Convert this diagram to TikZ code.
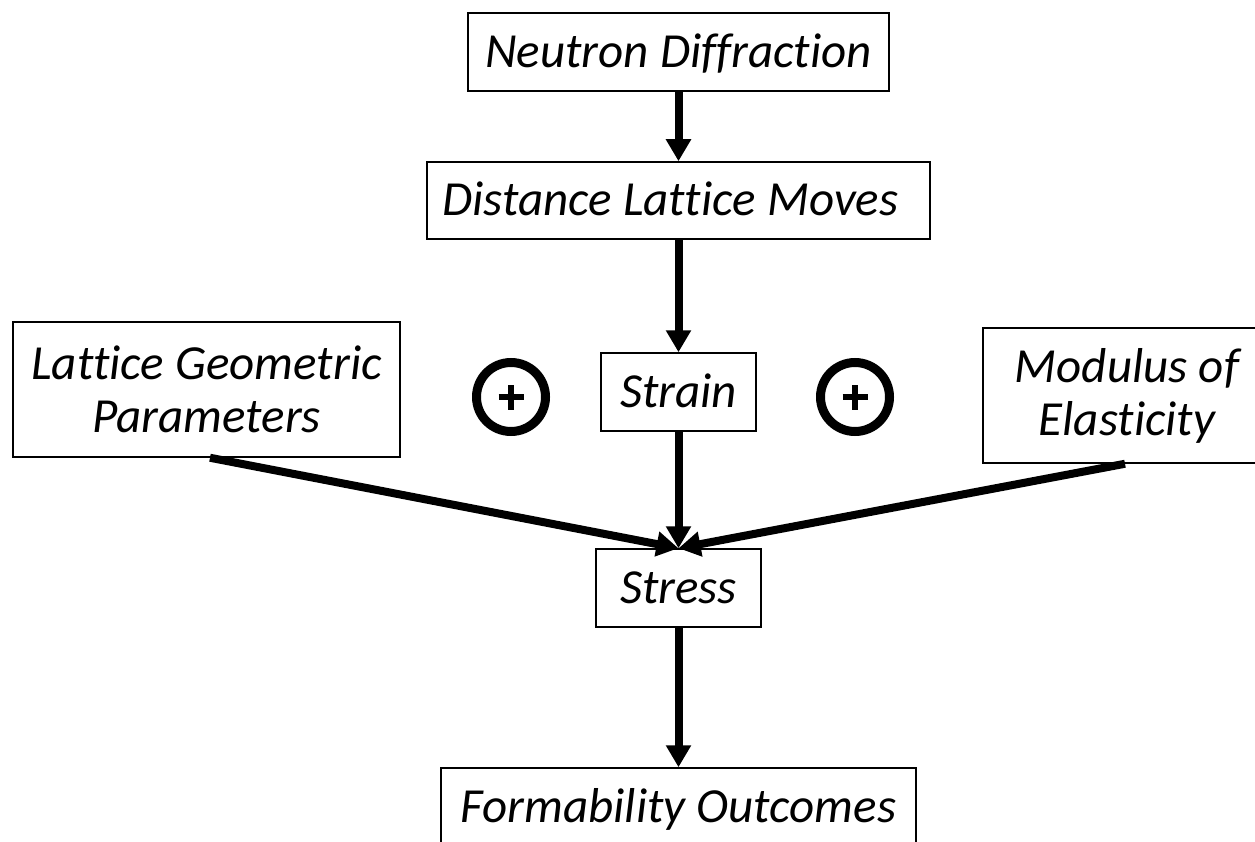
\documentclass[tikz,border=0pt]{standalone}
\usepackage{fontspec}
\setmainfont{Carlito}[Ligatures=NoCommon]
\usetikzlibrary{arrows.meta}
\tikzset{
  boxnode/.style={draw, line width=1.5pt, inner sep=0pt, align=center,
    font=\fontsize{49}{53}\selectfont\itshape},
  oneline/.style={text height=31pt, text depth=0pt},
  arr/.style={line width=8pt, -{Triangle[width=24pt,length=22pt]}},
  plusring/.style={circle, draw, line width=9pt, minimum size=69pt, inner sep=0pt},
  plusbar/.style={line width=6pt}
}
\begin{document}
\begin{tikzpicture}[x=1pt,y=-1pt]
\useasboundingbox (0,0) rectangle (1255,842);
\clip (0,0) rectangle (1255,842);
\node[boxnode, oneline, minimum width=421pt, minimum height=78pt] (nd) at (678.5,52) {Neutron Diffraction};
\node[boxnode, oneline, minimum width=503pt, minimum height=77pt] (dlm) at (678.5,200.5) {Distance Lattice Moves\hspace*{16pt}};
\node[boxnode, minimum width=387pt, minimum height=135pt] (lgp) at (206.5,389.5) {Lattice Geometric\\Parameters};
\node[boxnode, oneline, minimum width=155pt, minimum height=78pt] (strain) at (678.5,392) {Strain};
\node[boxnode, minimum width=288pt, minimum height=135pt] (moe) at (1127,395.5) {Modulus of\\Elasticity};
\node[boxnode, oneline, minimum width=165pt, minimum height=78pt] (stress) at (678.5,588) {Stress};
\node[boxnode, oneline, minimum width=475pt, minimum height=78pt] (fo) at (678.5,807) {Formability Outcomes};
\node[plusring] (c1) at (511,397) {};
\node[plusring] (c2) at (855,397) {};
\foreach \c in {c1,c2}{
  \draw[plusbar] ([xshift=-12.5pt]\c.center) -- ([xshift=12.5pt]\c.center);
  \draw[plusbar] ([yshift=-12.5pt]\c.center) -- ([yshift=12.5pt]\c.center);
}
\draw[arr] (nd.south) -- (dlm.north);
\draw[arr] (dlm.south) -- (strain.north);
\draw[arr] (strain.south) -- (stress.north);
\draw[arr] ([xshift=3.5pt]lgp.south) -- (stress.north);
\draw[arr] ([xshift=-2pt]moe.south) -- (stress.north);
\draw[arr] (stress.south) -- (fo.north);
\end{tikzpicture}
\end{document}
